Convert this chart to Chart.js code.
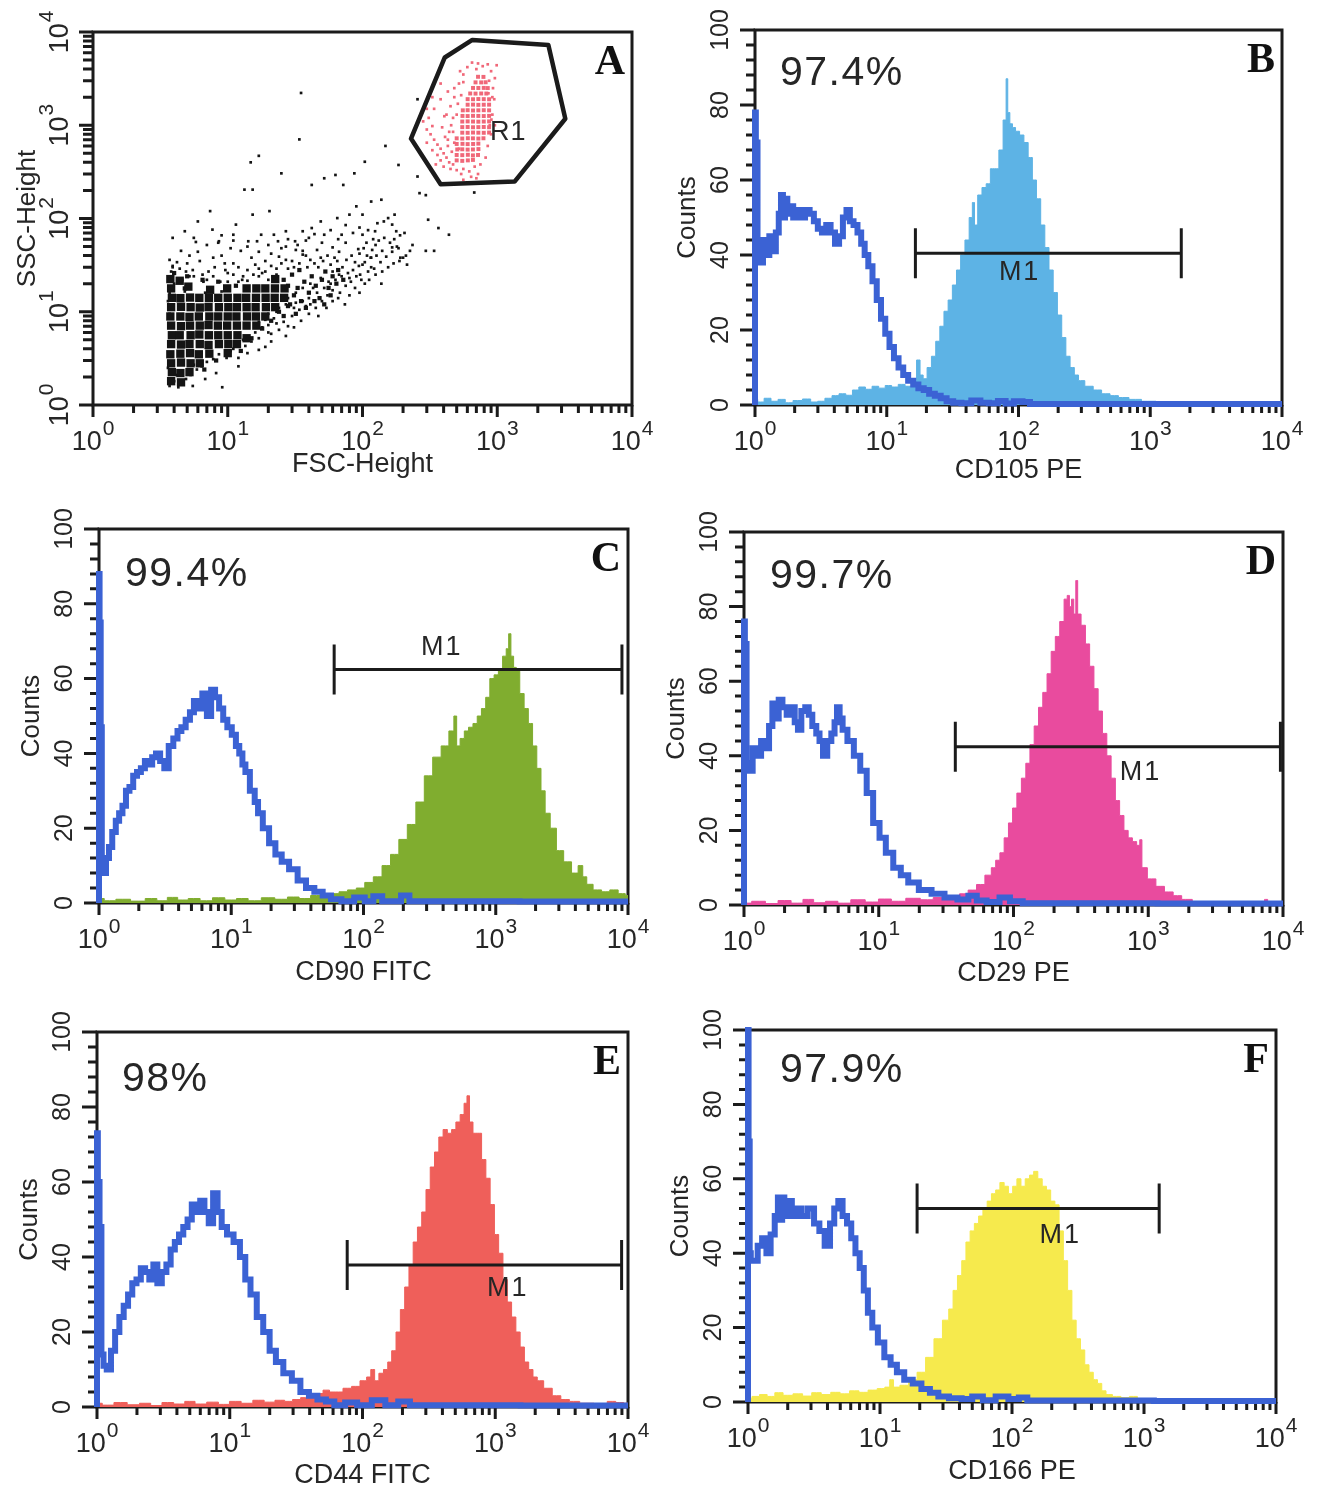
<!DOCTYPE html>
<html>
<head>
<meta charset="utf-8">
<title>MSC surface markers</title>
<script src="https://cdn.jsdelivr.net/npm/chart.js@4.4.1/dist/chart.umd.min.js"></script>
<style>
  html, body { margin: 0; padding: 0; background: #fff; }
  body { position: relative; width: 1321px; height: 1487px; overflow: hidden; }
  canvas { position: absolute; }
</style>
</head>
<body>
<canvas id="panel-A" width="660" height="495" style="left:0;top:0"></canvas>
<canvas id="panel-B" width="661" height="495" style="left:660px;top:0"></canvas>
<canvas id="panel-C" width="660" height="495" style="left:0;top:495px"></canvas>
<canvas id="panel-D" width="661" height="495" style="left:660px;top:495px"></canvas>
<canvas id="panel-E" width="660" height="497" style="left:0;top:990px"></canvas>
<canvas id="panel-F" width="661" height="497" style="left:660px;top:990px"></canvas>
<script>
// ---- tick labels / titles ----
const DECADE_EXPONENTS = ['0', '1', '2', '3', '4'];
const COUNT_TICKS = [0, 20, 40, 60, 80, 100];
const X_TITLES = { A: 'FSC-Height', B: 'CD105 PE', C: 'CD90 FITC', D: 'CD29 PE', E: 'CD44 FITC', F: 'CD166 PE' };
const Y_TITLES = { A: 'SSC-Height', B: 'Counts', C: 'Counts', D: 'Counts', E: 'Counts', F: 'Counts' };
const PERCENTS = { B: '97.4%', C: '99.4%', D: '99.7%', E: '98%', F: '97.9%' };

// ---- panel A: FSC / SSC dot plot ----
// gate R1 vertices (FSC, SSC)
const aGate = [[229, 720], [408, 5330], [653, 8220], [2395, 7270], [3200, 1175], [1345, 249], [380, 233], [229, 720]];
const aR1Label = [884, 695];

// dense part of the main population
const aCore = [
  [3.8, 1.8], [3.85, 2.25], [3.8, 2.8], [3.75, 3.5], [3.8, 4.5], [3.85, 5.6], [3.8, 7.1], [3.75, 8.9], [3.8, 11.2], [3.85, 14.1], [3.8, 17.8], [3.75, 22.4],
  [4.5, 1.75], [4.45, 2.2], [4.5, 2.85], [4.45, 3.55], [4.5, 4.45], [4.4, 5.6], [4.5, 7.0], [4.45, 8.9], [4.5, 11.3], [4.45, 14.0], [4.4, 21.5],
  [5.2, 2.25], [5.3, 2.8], [5.25, 3.6], [5.2, 4.5], [5.3, 5.6], [5.25, 7.1], [5.2, 8.8], [5.3, 11.2], [5.25, 14.2], [5.1, 18.6],
  [6.2, 2.8], [6.1, 3.5], [6.2, 4.5], [6.15, 5.7], [6.2, 7.1], [6.1, 8.9], [6.2, 11.1], [6.15, 14.1],
  [7.3, 3.55], [7.2, 4.4], [7.25, 5.6], [7.2, 7.2], [7.3, 8.9], [7.2, 11.2], [7.25, 14.0], [7.4, 17.2],
  [8.6, 4.5], [8.5, 5.6], [8.45, 7.1], [8.5, 8.9], [8.6, 11.2], [8.5, 14.1],
  [10, 3.6], [10.1, 4.5], [10, 5.6], [9.9, 7.1], [10, 8.9], [10.1, 11.2], [10, 14.1], [9.9, 17.8],
  [11.7, 4.5], [11.8, 5.6], [11.7, 7.1], [11.6, 8.9], [11.7, 11.2], [11.8, 14.1],
  [13.8, 5.2], [13.8, 7.1], [13.9, 8.9], [13.8, 11.2], [13.7, 14.1], [13.8, 17.8],
  [16.3, 7.1], [16.2, 8.9], [16.1, 11.2], [16.2, 14.1], [16.3, 17.8],
  [19, 8.9], [19.2, 11.2], [19.1, 14.1], [19, 17.8],
  [22.5, 11.2], [22.3, 14.1], [22.4, 17.8], [22.5, 22.4],
  [26.2, 14.1], [26.4, 17.8]
];

// looser band running up and to the right
const aBand = [
  [29, 12], [31, 15], [33, 18], [35, 13], [37, 21], [40, 16], [42, 24], [45, 19], [48, 14], [50, 22],
  [53, 27], [56, 18], [60, 24], [64, 20], [30, 25], [34, 28], [26, 9], [28, 11.5], [24, 10], [32, 9.5],
  [38, 11], [44, 13], [52, 12], [58, 15], [66, 28], [72, 22], [4.0, 26], [5.0, 24], [6.5, 22], [8.5, 21],
  [6.7, 2.4], [8.2, 3.0], [12.5, 3.8], [15, 5.2], [18, 6.6], [21, 8], [26, 22], [28, 19], [11.5, 19], [4.8, 17.8]
];

// scattered events of the main population
const aCells = [
  [3.7, 1.6], [4.0, 1.8], [4.4, 1.7], [4.9, 1.9], [3.8, 2.2], [4.6, 2.3], [5.3, 2.1], [5.9, 2.4], [6.4, 2.6], [7.0, 2.9],
  [3.6, 2.5], [4.2, 2.1], [5.6, 2.7], [7.8, 3.1], [8.6, 3.5], [9.1, 1.55], [12, 3.2], [11, 4.0], [13.5, 4.3], [15, 4.8],
  [17, 5.2], [19, 4.2], [21, 5.8], [24, 6.4], [14, 3.6], [16, 6.0], [18, 6.8], [26, 7.8], [22, 8.5], [30, 9],
  [28, 7], [20, 9.5], [34, 10.5], [24, 11], [27, 12], [32, 12.5], [36, 13], [40, 14], [46, 16], [52, 18],
  [58, 20], [63, 22], [70, 24], [78, 26], [85, 28], [94, 31], [104, 34], [115, 38], [127, 40], [140, 45],
  [50, 13], [45, 11], [55, 15], [60, 17], [66, 14], [75, 19], [82, 21], [90, 24], [98, 22], [110, 27],
  [122, 29], [136, 34], [150, 39], [166, 44], [185, 48], [200, 38], [214, 32], [191, 38], [180, 50], [166, 49],
  [138, 20], [144, 93], [166, 86], [178, 73], [129, 89], [124, 73], [173, 110], [155, 101], [100, 67], [107, 55],
  [93, 47], [116, 38], [100, 32], [116, 30], [96, 25], [80, 23], [67, 25], [60, 27], [56, 21], [49, 23],
  [41, 20], [90, 135], [80, 110], [100, 110], [65, 101], [49, 93], [42, 79], [36, 73], [27, 73], [22, 67],
  [17.7, 67], [11.5, 86], [15.3, 110], [20.4, 120], [7.4, 120], [6.0, 93], [4.8, 73], [3.9, 62], [5.6, 62], [7.7, 76],
  [8.6, 57], [11, 67], [14.2, 57], [16.5, 57], [23.6, 57], [31.6, 57], [52, 67], [70, 67], [75, 55], [60, 49],
  [36, 41], [49, 38], [65, 35], [148, 600], [185, 375], [256, 282], [265, 187], [295, 178], [675, 190], [256, 1900],
  [35, 2220], [34, 705], [17, 470], [14.8, 400], [25, 305], [104, 406], [13.3, 204], [15.3, 204], [42, 229], [52, 270],
  [63, 293], [87, 305], [72, 229], [116, 152], [138, 159], [307, 97], [366, 79], [438, 67], [340, 45], [295, 45],
  [3.7, 16], [4.0, 20], [3.8, 27], [4.4, 29], [3.9, 31], [4.6, 22], [5.2, 24], [5.5, 28], [6.2, 35], [7, 22],
  [8, 30], [9, 40], [10, 26], [11, 33], [12.5, 45], [6, 44], [8.5, 55], [13, 24], [15, 38], [10, 21],
  [4.8, 16.5], [6.8, 16], [9, 16.5], [5, 33], [6.5, 25], [7.8, 38], [10.5, 48], [12, 21], [14, 28], [16, 32],
  [18, 26], [20, 22], [19, 35], [23, 29], [21, 42], [27, 36], [31, 30], [25, 48], [33, 52], [38, 40],
  [44, 33], [46, 46], [28, 60], [40, 62], [5.2, 40], [7.2, 27], [3.7, 36], [9.5, 33], [12, 30], [17, 24],
  [10.5, 3.8], [9.8, 3.2], [13, 5.0], [17, 7.8], [20, 7.2], [23, 10], [19, 8.2], [31, 11], [38, 11.5], [43, 18],
  [3.6, 13], [3.7, 9.5], [3.9, 30], [4.2, 34], [4.9, 27], [5.6, 24], [6.6, 21], [7.8, 24], [8.8, 21], [9.6, 28],
  [11, 25], [12.8, 22], [14, 21.5], [15.5, 25], [17, 29], [19, 27], [21, 31], [23, 25], [25, 33], [28, 29],
  [30, 35], [34, 33], [36, 45], [39, 30], [41, 36], [47, 30], [51, 35], [55, 40], [58, 32], [62, 38],
  [67, 44], [71, 30], [76, 36], [83, 40], [88, 34], [95, 42], [102, 48], [108, 40], [118, 46], [125, 52],
  [132, 58], [145, 62], [160, 55], [172, 60], [190, 66], [205, 70], [120, 60], [110, 75], [95, 80], [85, 70],
  [75, 85], [66, 60], [58, 75], [50, 55], [44, 68], [38, 58], [32, 46], [27, 50], [24, 39], [20, 52],
  [17, 44], [14, 50], [11, 58], [9, 66], [7, 52], [5.8, 56], [4.5, 45], [28, 14], [32, 16], [36, 18],
  [41, 12], [47, 9], [54, 11], [60, 13], [68, 16], [74, 12], [80, 15], [88, 18], [95, 16], [104, 20],
  [112, 22], [125, 25], [140, 27], [155, 30], [170, 33], [188, 35], [210, 40], [225, 45], [235, 52], [20, 6],
  [23, 7.5], [27, 5.5], [17, 3.9], [21, 4.8], [31, 6.8], [35, 8], [40, 9.5], [12, 2.6], [8.2, 2.2], [6.8, 1.9],
  [5.5, 1.6], [4.3, 1.55]
];

// gated cells (R1)
const aGateCore = [
  [500, 420], [550, 415], [605, 420], [660, 425],
  [500, 480], [550, 478], [605, 482], [660, 475], [720, 480],
  [505, 550], [550, 552], [603, 548], [660, 550], [725, 555],
  [500, 630], [552, 632], [603, 628], [662, 630], [724, 635],
  [500, 724], [550, 720], [605, 726], [660, 724], [724, 720], [790, 725],
  [550, 832], [603, 830], [661, 835], [724, 832], [794, 830], [870, 835],
  [550, 955], [603, 958], [661, 952], [724, 955], [794, 958], [870, 952],
  [550, 1096], [603, 1100], [661, 1096], [724, 1092], [794, 1096], [870, 1100],
  [552, 1259], [603, 1255], [661, 1262], [724, 1259], [794, 1255], [870, 1260],
  [555, 1445], [603, 1450], [661, 1440], [724, 1445], [794, 1450], [870, 1445],
  [603, 1660], [661, 1665], [724, 1655], [794, 1660], [870, 1662],
  [603, 1905], [661, 1900], [724, 1910], [794, 1905], [870, 1900],
  [630, 2190], [690, 2185], [760, 2190], [830, 2188],
  [661, 2512], [724, 2510], [794, 2515], [850, 2505],
  [690, 2884], [760, 2880], [820, 2890],
  [720, 3310], [790, 3300]
];
const aGateCells = [
  [282, 1100], [300, 900], [320, 800], [340, 700], [360, 620], [380, 560], [400, 500], [420, 450], [440, 400], [380, 420],
  [360, 480], [330, 540], [400, 360], [450, 340], [500, 330], [560, 340], [620, 320], [680, 360], [540, 300], [470, 380],
  [430, 600], [410, 750], [390, 950], [420, 1300], [450, 1600], [480, 2000], [520, 2800], [560, 3500], [600, 4200], [650, 4700],
  [720, 4600], [780, 4300], [850, 4500], [900, 3800], [870, 3000], [930, 2500], [950, 1900], [920, 1300], [880, 1000], [960, 1000],
  [900, 800], [850, 600], [820, 450], [750, 380], [860, 2200], [310, 1200], [340, 1500], [380, 1900], [430, 2300], [480, 2500],
  [530, 3800], [700, 4000], [960, 3200], [990, 4400], [440, 850], [480, 650], [520, 560], [600, 620], [560, 260], [720, 300],
  [640, 280], [700, 270], [350, 380], [300, 650], [330, 980], [300, 1500], [330, 2000], [380, 2800], [455, 1000], [405, 1250],
  [470, 1200], [460, 520], [430, 700], [470, 850], [500, 1300], [510, 1700], [540, 2100], [560, 2900], [920, 2000], [905, 1150]
];

// ---- histograms: isotype control (blue outline) and marker (filled) ----
const bCtrl = [[1, 0], [1, 78], [1.03, 70], [1.06, 40], [1.12, 38], [1.18, 44], [1.25, 40], [1.32, 45], [1.4, 41], [1.48, 46],
  [1.55, 51], [1.6, 56], [1.66, 50], [1.72, 55], [1.8, 51], [1.9, 53], [2.0, 50], [2.15, 52], [2.3, 50], [2.5, 52],
  [2.7, 51], [2.9, 49], [3.1, 47], [3.35, 46], [3.6, 48], [3.9, 46], [4.2, 43], [4.5, 45], [4.8, 50], [5.1, 52],
  [5.4, 49], [5.8, 48], [6.2, 46], [6.6, 43], [7.0, 40], [7.5, 37], [8.1, 33], [8.7, 28], [9.4, 23], [10.1, 19],
  [10.9, 15.5], [11.8, 12.5], [12.8, 10], [13.9, 8], [15.2, 6.5], [16.6, 5.5], [18.2, 4.5], [20, 4], [22, 3], [24.4, 2.5],
  [27, 1.8], [30, 1], [34, 0.6], [40, 0.5], [48, 1.2], [55, 0.6], [65, 0.5], [75, 1.1], [85, 0.4], [100, 1],
  [115, 0.8], [130, 0.3], [10000, 0.3]];
const bPos = [[1, 1.5], [1.1, 0.8], [1.25, 1.8], [1.4, 1], [1.6, 1.5], [1.8, 0.6], [2.1, 1.2], [2.5, 1.6], [2.8, 0.8], [3.2, 1],
  [3.6, 1.8], [4.1, 2.5], [4.6, 3], [5.2, 2.6], [5.8, 4], [6.5, 4.8], [7.3, 4.2], [8.2, 5], [9.2, 4.5], [10.3, 5.2],
  [11.5, 4.8], [13, 5.5], [14.6, 5], [16.2, 6.5], [17.5, 12], [18.3, 8], [19.5, 7], [21, 10], [22.7, 13], [24.4, 17],
  [26.2, 21], [28.2, 25], [30.3, 28], [32.7, 32], [35, 36], [37.8, 40], [40.7, 44], [43.8, 50], [45.5, 54], [47.2, 48],
  [50.9, 56], [54.8, 58], [59, 59], [63.4, 63], [68.4, 63], [73.6, 68], [79.3, 76], [81.8, 87], [84, 78], [88, 75],
  [92, 74], [98, 73], [106, 72], [114, 70], [123, 66], [132, 60], [142, 55], [153, 48], [164, 42], [177, 36],
  [190, 30], [205, 24], [221, 18], [237, 13], [256, 10], [275, 8], [296, 6.5], [343, 5], [397, 4], [460, 3],
  [533, 2.5], [617, 2], [770, 1.5], [955, 1], [1280, 0.8], [1840, 0.3], [2200, 0], [10000, 0]];

const cCtrl = [[1, 0], [1, 88], [1.02, 75], [1.04, 47], [1.06, 12], [1.1, 8], [1.16, 12], [1.22, 15], [1.3, 19], [1.38, 22],
  [1.46, 24], [1.55, 26], [1.65, 30], [1.75, 31], [1.88, 34], [2.0, 35], [2.15, 36], [2.3, 38], [2.45, 37], [2.6, 39],
  [2.8, 40], [3.0, 38], [3.24, 36], [3.5, 42], [3.8, 44], [4.05, 46], [4.35, 47], [4.7, 49], [5.05, 51], [5.4, 54],
  [5.8, 52], [6.3, 56], [6.8, 50], [7.3, 57], [7.8, 55], [8.4, 52], [9.0, 49], [9.7, 47], [10.5, 45], [11.2, 42],
  [11.8, 40], [12.5, 37], [13.1, 35], [14.6, 30], [15.5, 27], [16.4, 24], [18.3, 20], [20.4, 16], [22.8, 13], [25.4, 11],
  [29.5, 9], [34.2, 6], [39.5, 4], [45.7, 3], [52.8, 2], [61, 1], [76, 0.5], [95, 1.5], [110, 0.5], [128, 1.8],
  [150, 0.5], [172, 0.5], [215, 2], [230, 0.5], [10000, 0.4]];
const cPos = [[1, 1.2], [1.2, 0.6], [1.5, 1], [2, 0.5], [2.5, 1.2], [3, 0.6], [3.6, 1.5], [4.3, 0.8], [5.2, 1.2], [6.5, 0.6],
  [8, 1.4], [10, 0.8], [12, 1.2], [15, 0.6], [19, 1.4], [24, 1], [29.5, 1.6], [36, 1.2], [44, 2], [52.8, 2],
  [61, 2.5], [70, 3], [82, 3.5], [95, 4], [110, 5.5], [128, 7], [149, 10], [172, 13], [199, 17], [231, 21],
  [268, 27], [310, 34], [359, 39], [416, 42], [470, 46], [495, 50], [518, 42], [558, 44], [600, 46], [646, 47],
  [700, 48], [750, 50], [810, 52], [870, 55], [935, 60], [1010, 61], [1085, 62], [1170, 66], [1230, 68], [1275, 72],
  [1330, 66], [1400, 63], [1460, 62], [1580, 56], [1700, 52], [1830, 48], [1970, 42], [2120, 36], [2280, 30], [2450, 24],
  [2720, 20], [3040, 14], [3500, 11], [4000, 8], [4400, 10], [4700, 7], [5060, 5], [5860, 3.5], [6800, 3], [7800, 3.5],
  [9100, 2.5], [10000, 2]];

const dCtrl = [[1, 0], [1, 76], [1.03, 70], [1.06, 38], [1.12, 36], [1.2, 42], [1.29, 40], [1.39, 44], [1.49, 42], [1.58, 48],
  [1.67, 54], [1.76, 50], [1.86, 55], [2.0, 53], [2.15, 51], [2.31, 53], [2.45, 49], [2.58, 47], [2.75, 52], [2.95, 53],
  [3.1, 51], [3.33, 48], [3.55, 46], [3.72, 44], [4.0, 40], [4.3, 44], [4.6, 46], [4.8, 49], [5.0, 53], [5.25, 50],
  [5.54, 47], [6.19, 44], [6.9, 40], [7.7, 36], [8.6, 30], [9.6, 22], [10.7, 18], [11.9, 14], [13.8, 10], [15.4, 8],
  [17.8, 6], [22.1, 4], [27.5, 3], [34.4, 2], [42.8, 1.5], [50, 2.5], [57, 1.2], [70, 0.8], [88.6, 2], [100, 1],
  [137, 0.5], [10000, 0.4]];
const dPos = [[1, 0.5], [1.3, 1], [1.6, 0.4], [2, 1.2], [2.5, 0.5], [3, 1.5], [3.6, 0.6], [4.5, 1], [5.5, 0.5], [7, 1.4],
  [9, 0.8], [11, 1.6], [14, 1], [18, 1.8], [23, 1.4], [28, 2], [33, 1.6], [37, 2.5], [42.8, 3], [49.6, 4],
  [57, 5.5], [66, 8], [71, 10], [76.6, 12], [82, 14], [88.6, 18], [95, 22], [102, 26], [110, 30], [119, 34],
  [128, 38], [137, 43], [148, 48], [159, 53], [171, 57], [184, 62], [197, 68], [212, 72], [229, 76], [246, 82],
  [255, 83], [265, 80], [274, 82], [286, 78], [294, 87], [305, 78], [330, 75], [354, 70], [381, 64], [410, 58],
  [440, 52], [475, 46], [511, 40], [550, 34], [591, 28], [636, 24], [685, 20], [735, 18], [791, 17], [850, 16],
  [880, 17.5], [915, 10], [1060, 7], [1225, 5], [1420, 3.5], [1650, 2.5], [1900, 1.5], [2370, 0.8], [2750, 0.5], [3000, 0],
  [7200, 0], [7400, 1.5], [8000, 0.3], [10000, 0.3]];

const eCtrl = [[1, 0], [1, 73], [1.03, 60], [1.06, 48], [1.1, 14], [1.14, 11], [1.23, 10], [1.32, 15], [1.42, 20], [1.53, 24],
  [1.65, 27], [1.78, 30], [1.91, 33], [2.06, 34], [2.22, 37], [2.39, 36], [2.57, 34], [2.75, 38], [2.95, 33], [3.21, 36],
  [3.46, 38], [3.72, 42], [4.0, 44], [4.3, 46], [4.64, 48], [4.99, 50], [5.37, 54], [5.79, 52], [6.2, 55], [6.7, 52],
  [7.2, 49], [7.8, 57], [8.4, 52], [9.0, 48], [10.1, 46], [11.3, 44], [12.6, 40], [13.6, 34], [15.1, 30], [16.9, 24],
  [18.9, 20], [21.1, 15], [23.5, 12], [27.3, 9], [31.6, 7], [36.7, 4], [42.5, 3], [49.3, 2], [57, 1.5], [66, 0.5],
  [83, 1.2], [100, 0.5], [138, 1.8], [160, 0.5], [216, 1.5], [240, 0.5], [10000, 0.4]];
const ePos = [[1, 1], [1.2, 0.5], [1.5, 1.2], [1.9, 0.6], [2.3, 1], [2.8, 0.4], [3.4, 1.2], [4.2, 0.8], [5, 1.5], [6, 0.8],
  [7.5, 1.3], [9, 0.7], [11, 1.5], [13.5, 1], [16.5, 1.8], [20, 1.3], [24, 1.8], [28, 1.5], [31.6, 2], [37, 2.5],
  [42.5, 3], [48, 3.6], [53, 4.5], [60, 4], [66, 4], [77, 5], [89, 5.5], [103, 7], [112, 8], [119, 10],
  [128, 7], [138, 9], [150, 10], [160, 12], [172, 15], [186, 20], [200, 26], [216, 32], [232, 38], [250, 44],
  [269, 48], [290, 52], [312, 58], [336, 64], [362, 68], [390, 72], [420, 74], [452, 73], [487, 74], [524, 76],
  [565, 78], [600, 81], [625, 83], [655, 76], [705, 73], [760, 73], [819, 66], [882, 61], [950, 54], [1023, 46],
  [1100, 41], [1187, 34], [1279, 28], [1378, 24], [1484, 20], [1598, 16], [1721, 12], [1854, 10], [1997, 8], [2150, 7],
  [2494, 5], [2895, 3], [3360, 2], [3900, 1.5], [4800, 1], [6400, 0.5], [7600, 1.5], [8600, 1.2], [10000, 1]];

const fCtrl = [[1, 0], [1, 100], [1.02, 70], [1.04, 40], [1.06, 38], [1.14, 38], [1.23, 42], [1.33, 44], [1.43, 40], [1.54, 45],
  [1.65, 50], [1.72, 55], [1.78, 49], [1.85, 55], [1.92, 50], [2.07, 54], [2.23, 50], [2.4, 52], [2.68, 50], [2.99, 52],
  [3.35, 48], [3.6, 46], [4.03, 42], [4.34, 48], [4.67, 52], [5.0, 54], [5.42, 50], [5.84, 48], [6.28, 44], [6.76, 40],
  [7.28, 36], [7.8, 30], [8.4, 24], [9.1, 20], [10.2, 16], [11.4, 12], [12.7, 10], [14.2, 8], [16.4, 6], [19.1, 5],
  [22.2, 3.5], [25.7, 2.5], [29.8, 1.5], [37.2, 1], [46.4, 0.8], [53.8, 1.5], [67.3, 0.5], [84, 1.5], [105, 0.8], [121, 1.2],
  [141, 0.4], [10000, 0.3]];
const fPos = [[1, 1], [1.15, 1.5], [1.3, 2], [1.5, 1.5], [1.7, 2.5], [2, 1.8], [2.4, 2.2], [2.8, 1.6], [3.3, 2.5], [3.9, 2],
  [4.6, 2.6], [5.4, 2.2], [6.4, 3], [7.5, 2.6], [8.8, 3.2], [10.3, 3.6], [11.5, 4], [12.2, 6], [13.1, 4], [15.3, 4.5],
  [17.7, 6], [20.6, 8], [23.8, 12], [27.6, 17], [32, 22], [34.4, 25], [37.2, 30], [40.1, 34], [43.2, 38], [46.4, 43],
  [50, 46], [53.8, 48], [58, 50], [62.5, 52], [67.3, 54], [72.5, 56], [78, 57], [84, 59], [90.5, 58], [97.5, 56],
  [105, 58], [113, 60], [121, 58], [131, 60], [141, 61], [151, 62], [163, 60], [176, 58], [189, 57], [204, 54],
  [219, 53], [236, 46], [254, 38], [274, 30], [295, 22], [318, 17], [343, 14], [369, 10], [398, 8], [428, 6],
  [461, 5], [497, 3], [535, 2], [621, 1.5], [720, 1.2], [835, 1.5], [950, 0.5], [1040, 0], [10000, 0]];

// M1 marker: [start, end, counts level, label position]
const bM1 = [16.5, 1720, 40.5, 102];
const cM1 = [60, 9000, 62.4, 390];
const dM1 = [37, 9570, 42.4, 875];
const eM1 = [76.7, 8950, 37.9, 1240];
const fM1 = [19.1, 1303, 52.0, 232];

// ---- look ----
const INK = '#1b1b1b';
const TXT = '#262626';
const CTRL_BLUE = '#3b62d4';
const SANS = '"Liberation Sans", Arial, Helvetica, sans-serif';
const SERIF = '"Liberation Serif", "Times New Roman", serif';

// frame rectangles in page pixels [left, top, right, bottom], plus text offsets
const LAYOUT = {
  A: { canvas: [0, 0], frame: [93, 32, 632, 405], xTitleDy: 67 },
  B: { canvas: [660, 0], frame: [755, 30, 1282, 405], xTitleDy: 73, pct: [25, 55], m1Dy: 27 },
  C: { canvas: [0, 495], frame: [99, 529, 628, 903], xTitleDy: 77, pct: [26, 57], m1Dy: -15 },
  D: { canvas: [660, 495], frame: [744, 532, 1283, 905], xTitleDy: 76, pct: [26, 56], m1Dy: 33 },
  E: { canvas: [0, 990], frame: [97, 1032, 628, 1407], xTitleDy: 76, pct: [25, 59], m1Dy: 31 },
  F: { canvas: [660, 990], frame: [748, 1030, 1276, 1402], xTitleDy: 77, pct: [32, 52], m1Dy: 34 },
};

function padding(key, canvas) {
  const L = LAYOUT[key];
  const [cx, cy] = L.canvas;
  const [l, t, r, b] = L.frame;
  return { left: l - cx, top: t - cy, right: cx + canvas.width - r, bottom: cy + canvas.height - b };
}

/** "10" with a raised exponent, centred on (0,0) after translate/rotate. */
function powLabel(ctx, exp, px, py, vertical) {
  ctx.save();
  ctx.translate(px, py);
  if (vertical) ctx.rotate(-Math.PI / 2);
  ctx.fillStyle = TXT;
  ctx.textAlign = 'left';
  ctx.textBaseline = 'alphabetic';
  ctx.font = `27px ${SANS}`;
  const wb = ctx.measureText('10').width;
  ctx.font = `21px ${SANS}`;
  const ws = ctx.measureText(exp).width;
  const x0 = -(wb + ws + 1) / 2;
  ctx.font = `27px ${SANS}`;
  ctx.fillText('10', x0, 0);
  ctx.font = `21px ${SANS}`;
  ctx.fillText(exp, x0 + wb + 1, -15);
  ctx.restore();
}

function rotatedText(ctx, text, px, py, font) {
  ctx.save();
  ctx.translate(px, py);
  ctx.rotate(-Math.PI / 2);
  ctx.font = font;
  ctx.fillStyle = TXT;
  ctx.textAlign = 'center';
  ctx.textBaseline = 'alphabetic';
  ctx.fillText(text, 0, 0);
  ctx.restore();
}

function logTicks(ctx, scale, edge, vertical) {
  ctx.beginPath();
  for (let i = 0; i < DECADE_EXPONENTS.length; i++) {
    const base = 10 ** Number(DECADE_EXPONENTS[i]);
    const steps = i === DECADE_EXPONENTS.length - 1 ? 1 : 9;
    for (let k = 1; k <= steps; k++) {
      const p = scale.getPixelForValue(k * base);
      const len = k === 1 ? 12 : 8;
      if (vertical) { ctx.moveTo(edge, p); ctx.lineTo(edge - len - 2, p); }
      else { ctx.moveTo(p, edge); ctx.lineTo(p, edge + len); }
    }
  }
  ctx.stroke();
}

function countTicks(ctx, scale, edge) {
  ctx.beginPath();
  for (let v = 0; v <= 100; v += 4) {
    const p = scale.getPixelForValue(v);
    const len = v % 20 === 0 ? 15 : 9;
    ctx.moveTo(edge, p);
    ctx.lineTo(edge - len, p);
  }
  ctx.stroke();
}

function facsAxes(key, opts) {
  return {
    id: 'facsAxes',
    beforeDatasetsDraw(chart) {
      const { ctx, chartArea: a, scales } = chart;
      ctx.save();
      ctx.strokeStyle = INK;
      ctx.lineWidth = 3;
      ctx.strokeRect(a.left, a.top, a.right - a.left, a.bottom - a.top);
      logTicks(ctx, scales.x, a.bottom, false);
      if (opts.logY) logTicks(ctx, scales.y, a.left, true);
      else countTicks(ctx, scales.y, a.left);

      // tick labels
      DECADE_EXPONENTS.forEach((e) => {
        powLabel(ctx, e, scales.x.getPixelForValue(10 ** Number(e)), a.bottom + 45, false);
      });
      if (opts.logY) {
        DECADE_EXPONENTS.forEach((e) => {
          powLabel(ctx, e, a.left - 25, scales.y.getPixelForValue(10 ** Number(e)), true);
        });
      } else {
        COUNT_TICKS.forEach((v) => {
          rotatedText(ctx, String(v), a.left - 27, scales.y.getPixelForValue(v), `25px ${SANS}`);
        });
      }

      // axis titles
      ctx.font = `27px ${SANS}`;
      ctx.fillStyle = TXT;
      ctx.textAlign = 'center';
      ctx.fillText(X_TITLES[key], (a.left + a.right) / 2, a.bottom + LAYOUT[key].xTitleDy);
      rotatedText(ctx, Y_TITLES[key], a.left - (opts.logY ? 58 : 60), (a.top + a.bottom) / 2, `26px ${SANS}`);
      ctx.restore();
    },
    afterDatasetsDraw(chart) {
      const { ctx, chartArea: a, scales } = chart;
      const L = LAYOUT[key];
      ctx.save();

      if (opts.m1) {
        const [x1, x2, lvl, lx] = opts.m1;
        const p1 = scales.x.getPixelForValue(x1);
        const p2 = scales.x.getPixelForValue(x2);
        const py = scales.y.getPixelForValue(lvl);
        ctx.strokeStyle = INK;
        ctx.lineWidth = 3;
        ctx.beginPath();
        ctx.moveTo(p1, py); ctx.lineTo(p2, py);
        ctx.moveTo(p1, py - 25); ctx.lineTo(p1, py + 25);
        ctx.moveTo(p2, py - 25); ctx.lineTo(p2, py + 25);
        ctx.stroke();
        ctx.font = `27px ${SANS}`;
        ctx.letterSpacing = '2px';
        ctx.fillStyle = TXT;
        ctx.textAlign = 'center';
        ctx.fillText('M1', scales.x.getPixelForValue(lx), py + L.m1Dy);
      }

      if (PERCENTS[key]) {
        ctx.font = `41px ${SANS}`;
        ctx.letterSpacing = '1.5px';
        ctx.fillStyle = TXT;
        ctx.textAlign = 'left';
        ctx.fillText(PERCENTS[key], a.left + L.pct[0], a.top + L.pct[1]);
      }

      if (opts.r1) {
        ctx.font = `27px ${SANS}`;
        ctx.letterSpacing = '1px';
        ctx.fillStyle = TXT;
        ctx.textAlign = 'left';
        ctx.fillText('R1', scales.x.getPixelForValue(opts.r1[0]), scales.y.getPixelForValue(opts.r1[1]));
      }

      // panel letter
      ctx.letterSpacing = '0px';
      ctx.font = `bold 42px ${SERIF}`;
      ctx.fillStyle = '#111';
      ctx.textAlign = 'right';
      ctx.fillText(key, a.right - 7, a.top + 42);
      ctx.restore();
    },
  };
}

function baseOptions(key, canvas, logY) {
  return {
    responsive: false,
    animation: false,
    devicePixelRatio: 1,
    layout: { padding: padding(key, canvas) },
    plugins: { legend: { display: false }, tooltip: { enabled: false } },
    elements: { line: { tension: 0 } },
    scales: {
      x: { type: 'logarithmic', min: 1, max: 10000, display: false },
      y: logY
        ? { type: 'logarithmic', min: 1, max: 10000, display: false }
        : { type: 'linear', min: 0, max: 100, display: false },
    },
  };
}

/* ── A: dot plot with R1 gate ── */
(function () {
  const canvas = document.getElementById('panel-A');
  const DOT = '#141414';
  const RED = '#f06879';
  const dots = (data, r, color, order) => ({
    data, pointStyle: 'rect', pointRadius: r, backgroundColor: color, borderWidth: 0, order,
  });
  new Chart(canvas, {
    type: 'scatter',
    data: {
      datasets: [
        { data: aGate, showLine: true, borderColor: INK, borderWidth: 4.5, borderJoinStyle: 'round',
          borderCapStyle: 'round', pointRadius: 0, order: 0 },
        dots(aGateCore, 2.8, RED, 1),
        dots(aGateCells, 1.9, RED, 2),
        dots(aCore, 5.9, DOT, 3),
        dots(aBand, 3.0, DOT, 4),
        dots(aCells, 1.9, DOT, 5),
      ],
    },
    options: baseOptions('A', canvas, true),
    plugins: [facsAxes('A', { logY: true, r1: aR1Label })],
  });
})();

/* ── B–F: histograms ── */
const HISTS = [
  { key: 'B', ctrl: bCtrl, pos: bPos, m1: bM1, color: '#5db3e5' },
  { key: 'C', ctrl: cCtrl, pos: cPos, m1: cM1, color: '#80ad2f' },
  { key: 'D', ctrl: dCtrl, pos: dPos, m1: dM1, color: '#e94b9e' },
  { key: 'E', ctrl: eCtrl, pos: ePos, m1: eM1, color: '#ef5f5a' },
  { key: 'F', ctrl: fCtrl, pos: fPos, m1: fM1, color: '#f6ea4d' },
];

HISTS.forEach((h) => {
  const canvas = document.getElementById(`panel-${h.key}`);
  new Chart(canvas, {
    type: 'line',
    data: {
      datasets: [
        { data: h.ctrl, stepped: 'middle', borderColor: CTRL_BLUE, borderWidth: 6, fill: false,
          pointRadius: 0, order: 0, clip: 6 },
        { data: h.pos, stepped: 'middle', borderColor: h.color, backgroundColor: h.color, borderWidth: 1,
          fill: 'origin', pointRadius: 0, order: 1 },
      ],
    },
    options: baseOptions(h.key, canvas, false),
    plugins: [facsAxes(h.key, { logY: false, m1: h.m1 })],
  });
});
</script>
</body>
</html>
